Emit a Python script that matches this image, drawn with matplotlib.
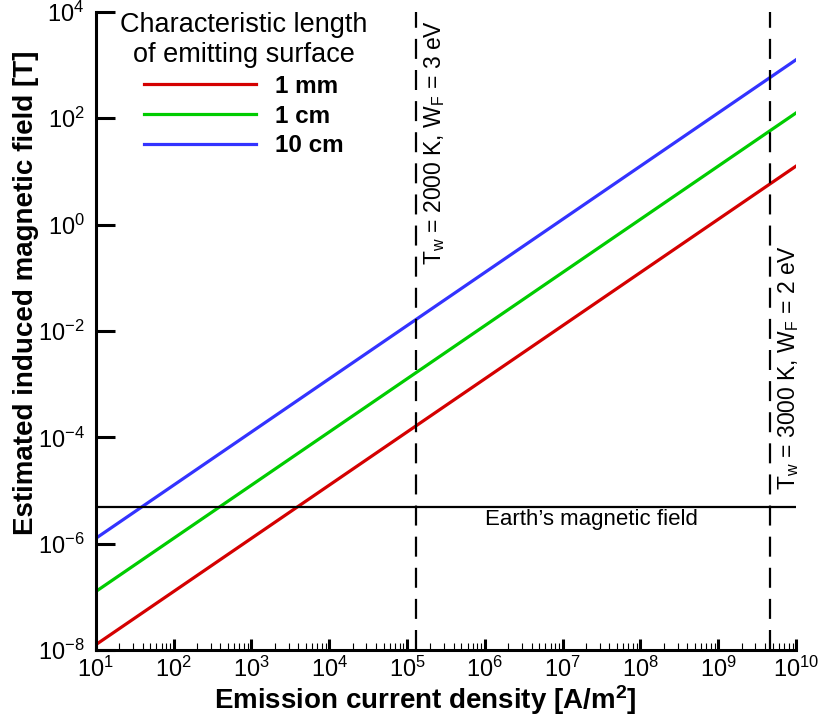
import matplotlib
matplotlib.use('Agg')
import matplotlib.pyplot as plt
import matplotlib.ticker as mtick

plt.rcParams['font.family'] = ['Liberation Sans', 'DejaVu Sans']
plt.rcParams['mathtext.default'] = 'regular'
plt.rcParams['axes.unicode_minus'] = False

# emission current density range [A/m^2]
current = [1e1, 1e10]
# induced field [T] for each characteristic length
field_1mm = [1.26e-8, 1.26e1]
field_1cm = [1.26e-7, 1.26e2]
field_10cm = [1.26e-6, 1.26e3]
labels = ['1 mm', '1 cm', '10 cm']
colors = ['#d40000', '#00cc00', '#3333ff']

earth_field = 5e-6
j_2000K = 1.3e5
j_3000K = 4.6e9

fig = plt.figure(figsize=(8.19, 7.17), dpi=100)
ax = fig.add_axes([0.117, 0.0934, 0.855, 0.89])

for ys, lab, c in zip([field_1mm, field_1cm, field_10cm], labels, colors):
    ax.plot(current, ys, color=c, lw=2.3, label=lab)

ax.axhline(earth_field, color='black', lw=1.6)
for xv in [j_2000K, j_3000K]:
    ax.axvline(xv, color='black', lw=1.6, dashes=(9, 5))

ax.set_xscale('log')
ax.set_yscale('log')
ax.set_xlim(1e1, 1e10)
ax.set_ylim(1e-8, 1e4)

ax.text(j_2000K * 1.2, 10**3.85, r'T$_w$ = 2000 K, W$_F$ = 3 eV',
        rotation=90, ha='left', va='top', fontsize=16.5)
ax.text(j_3000K * 1.22, 1e-5, r'T$_w$ = 3000 K, W$_F$ = 2 eV',
        rotation=90, ha='left', va='bottom', fontsize=16.5)
ax.text(10**7.37, 4.4e-6, 'Earth\u2019s magnetic field', ha='center', va='top', fontsize=16)

ax.xaxis.set_major_locator(mtick.LogLocator(base=10, numticks=20))
ax.xaxis.set_minor_locator(mtick.LogLocator(base=10, subs=range(2, 10), numticks=20))
ax.xaxis.set_minor_formatter(mtick.NullFormatter())
ax.yaxis.set_major_locator(mtick.FixedLocator([10.0**p for p in range(-8, 5, 2)]))
ax.yaxis.set_minor_locator(mtick.NullLocator())

for s in ['top', 'right']:
    ax.spines[s].set_visible(False)
for s in ['left', 'bottom']:
    ax.spines[s].set_linewidth(2.2)

ax.tick_params(which='major', direction='in', width=2.2, labelsize=17)
ax.tick_params(axis='x', which='major', length=8, pad=5)
ax.tick_params(axis='y', which='major', length=14, pad=8)
ax.tick_params(which='minor', direction='in', length=5, width=0.8)

ax.set_xlabel('Emission current density [A/m$^2$]', fontsize=20, fontweight='bold')
ax.set_ylabel('Estimated induced magnetic field [T]', fontsize=20, fontweight='bold')
ax.xaxis.set_label_coords(0.47, -0.052)
ax.yaxis.set_label_coords(-0.081, 0.56)

leg = ax.legend(loc='upper left', bbox_to_anchor=(0.035, 1.0), frameon=False,
                title='Characteristic length\nof emitting surface', title_fontsize=19.5,
                prop={'size': 17.5, 'weight': 'bold'}, handlelength=4.6, handletextpad=0.8,
                labelspacing=0.28, borderpad=0, borderaxespad=0)
leg.get_title().set_multialignment('center')

fig.savefig('out.png', dpi=100)
